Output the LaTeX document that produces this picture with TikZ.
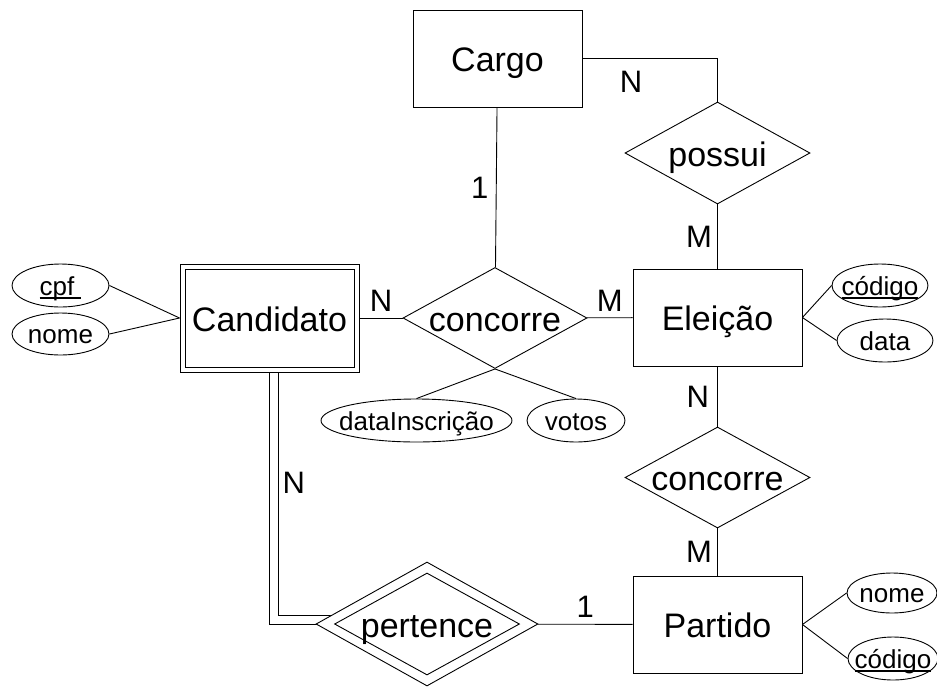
\documentclass[tikz,border=0pt]{standalone}
\usepackage{fontspec}
\setmainfont{Liberation Sans}
\usepackage{tikz}
\usetikzlibrary{shapes.geometric,backgrounds}

\newsavebox{\chavebox}
\newcommand{\chave}[1]{\sbox{\chavebox}{#1}\rlap{\rule[-3.5pt]{\wd\chavebox}{1.3pt}}\usebox{\chavebox}}

\newcommand{\entfont}{\fontsize{34}{36}\selectfont}
\newcommand{\attfont}{\fontsize{26}{28}\selectfont}
\newcommand{\cardfont}{\fontsize{31}{31}\selectfont}

\tikzset{
	entity/.style={rectangle, draw, line width=0.9pt, minimum width=169pt, minimum height=97pt, inner sep=0pt, text height=26pt, text depth=0pt, font=\entfont},
	relation/.style={diamond, draw, line width=0.9pt, aspect=1.83, minimum width=185pt, minimum height=102pt, inner sep=0pt, text height=26pt, text depth=0pt, font=\entfont},
	attrib/.style={ellipse, draw, line width=0.9pt, inner xsep=-15pt, inner ysep=0pt, minimum width=97pt, minimum height=43pt, text height=19pt, text depth=0pt, font=\attfont},
	card/.style={inner sep=0pt, font=\cardfont}
}

\begin{document}
\begin{tikzpicture}[x=1pt, y=-1pt, line width=0.9pt]

	\useasboundingbox (0, 0) rectangle (937, 686);

	% entidades
	\node[entity] (cargo) at (497.5, 58.5) {Cargo};
	\node[entity] (eleicao) at (717.5, 317.5) {Eleição};
	\node[entity] (partido) at (717.5, 624.5) {Partido};
	\node[entity, fill=white, minimum width=179pt, minimum height=108pt] (candidato) at (269.5, 318) {Candidato};
	\node[entity, minimum width=169pt, minimum height=98pt] (candidatoIn) at (candidato.center) {};

	% relacionamentos
	\node[relation] (possui) at (717.5, 153) {possui};
	\node[relation, minimum width=184pt, minimum height=101pt] (concorre) at (495, 318) {concorre};
	\node[relation, minimum height=101pt] (concorreP) at (717.5, 477.5) {concorre};
	\node[relation, fill=white, minimum width=222pt, minimum height=124pt] (pertence) at (427, 624) {pertence};
	\node[relation] (pertenceIn) at (pertence.center) {};

	% atributos
	\node[attrib] (cpf) at (60.5, 285.5) {\chave{cpf\ }};
	\node[attrib, minimum height=42pt] (nomeC) at (60.5, 334) {nome};
	\node[attrib, minimum width=96pt] (codigoE) at (880, 285.5) {\chave{código}};
	\node[attrib, minimum width=96pt] (dataE) at (885, 340.5) {data};
	\node[attrib, minimum width=191pt] (dataInsc) at (416.5, 420.5) {dataInscrição};
	\node[attrib, minimum width=98pt] (votos) at (576, 420.5) {votos};
	\node[attrib, minimum width=90pt, minimum height=40pt] (nomeP) at (892, 593) {nome};
	\node[attrib, minimum width=90pt] (codigoP) at (893, 658.5) {\chave{código}};

	% ligacoes
	\draw (cargo.east) -| node[card, pos=0.18, below=12pt] {N} (possui.north);
	\path[-] (cargo) edge node[card, left=7.5pt] {1} (concorre);
	\path[-] (possui) edge node[card, left=5pt] {M} (eleicao);
	\path[-] (candidato) edge node[card, above=6pt] {N} (concorre);
	\path[-] (concorre) edge node[card, above=6pt] {M} (eleicao);
	\path[-] (eleicao) edge node[card, left=8pt] {N} (concorreP);
	\path[-] (concorreP) edge node[card, left=5pt] {M} (partido);
	\path[-] (pertence) edge node[card, above=6pt] {1} (partido);

	\draw (cpf.east) -- (candidato.west);
	\draw (nomeC.east) -- (candidato.west);
	\draw (eleicao.east) -- (codigoE.west);
	\draw (eleicao.east) -- (dataE.west);
	\draw (concorre.south) -- (dataInsc.north);
	\draw (concorre.south) -- (votos.north);
	\draw (partido.east) -- (nomeP.west);
	\draw (partido.east) -- (codigoP.west);

	% participacao total (linha dupla)
	\begin{scope}[on background layer]
		\draw (candidato.south) |- node[card, pos=0.22, right=13pt] {N} (pertence.center);
		\draw ([xshift=9pt]candidato.south) |- ([yshift=9pt]pertence.center);
	\end{scope}

\end{tikzpicture}
\end{document}
